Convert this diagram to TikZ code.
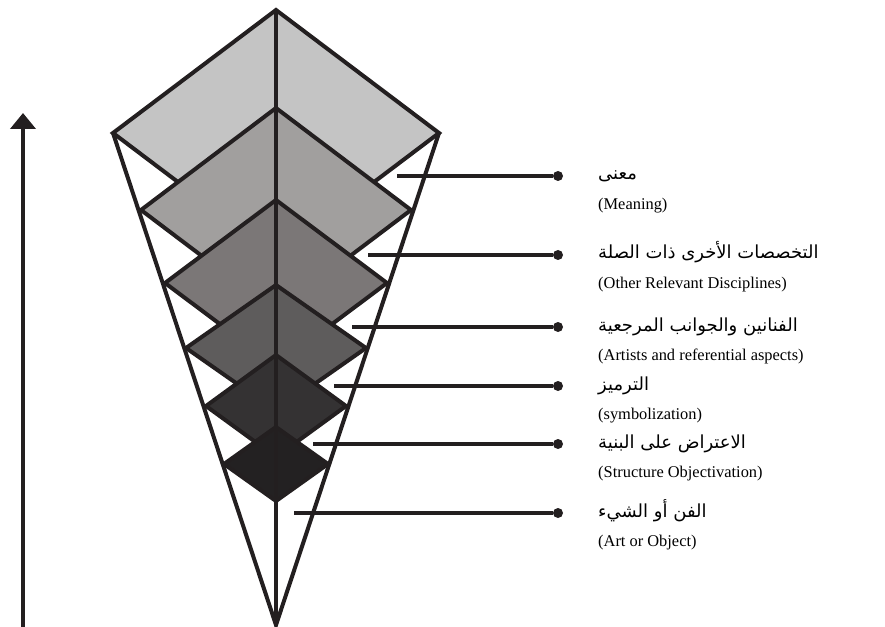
\documentclass[tikz,border=0pt]{standalone}
\usepackage{fontspec}
\setmainfont{Liberation Serif}
\newfontfamily\arabicfont[Script=Arabic]{DejaVu Sans}
\TeXXeTstate=1
\usepackage{tikz}
\usetikzlibrary{arrows.meta,positioning}
\definecolor{Ink}{HTML}{231F20}
\definecolor{ToneA}{HTML}{C4C4C4}
\definecolor{ToneB}{HTML}{A19F9E}
\definecolor{ToneC}{HTML}{7B7777}
\definecolor{ToneD}{HTML}{5E5C5C}
\definecolor{ToneE}{HTML}{343233}
\definecolor{ToneF}{HTML}{232122}

\begin{document}
\begin{tikzpicture}[x=0.75pt, y=-0.75pt, line join=miter,
  layer/.style={draw=Ink, line width=3pt},
  tick/.style={draw=Ink, line width=2.4pt},
  rise/.style={draw=Ink, line width=3.5pt, -{Triangle[width=18.75pt, length=12pt]}},
  dot/.style={circle, fill=Ink, inner sep=0pt, minimum size=7.5pt},
  arlabel/.style={font=\arabicfont\fontsize{13.5}{15}\selectfont, inner sep=0pt, text height=12pt, text depth=4pt},
  enlabel/.style={font=\fontsize{12.3}{14}\selectfont, inner sep=0pt, text height=8.5pt, text depth=3pt}]
\useasboundingbox (0,0) rectangle (885,627);
\coordinate (top) at (276,10);
\coordinate (apex) at (276,625);
\coordinate (left) at (113,133);
\coordinate (right) at (439,133);
\coordinate (base) at (23,627);
\coordinate (tip) at (23,113);
\draw[layer] (left) -- (apex) -- (right);
\filldraw[layer, fill=ToneA] (top) -- (left) -- (276,256) -- (right) -- cycle;
\filldraw[layer, fill=ToneB] (276,108) -- (141,210) -- (276,312) -- (411,210) -- cycle;
\filldraw[layer, fill=ToneC] (276,200) -- (165,283) -- (276,366) -- (387,283) -- cycle;
\filldraw[layer, fill=ToneD] (276,285) -- (186,348) -- (276,411) -- (366,348) -- cycle;
\filldraw[layer, fill=ToneE] (276,355) -- (206,406) -- (276,457) -- (346,406) -- cycle;
\filldraw[layer, fill=ToneF] (276,427) -- (224,464) -- (276,501) -- (328,464) -- cycle;
\draw[layer] (top) -- (apex);
\draw[rise] (base) -- (tip);
\node[dot] (d1) at (558,176) {};
\node[dot] (d2) at (558,255) {};
\node[dot] (d3) at (558,327) {};
\node[dot] (d4) at (558,386) {};
\node[dot] (d5) at (558,444) {};
\node[dot] (d6) at (558,513) {};
\coordinate (p1) at (397,176);
\coordinate (p2) at (368,255);
\coordinate (p3) at (352,327);
\coordinate (p4) at (334,386);
\coordinate (p5) at (313,444);
\coordinate (p6) at (294,513);
\draw[tick] (p1) -- (d1);
\draw[tick] (p2) -- (d2);
\draw[tick] (p3) -- (d3);
\draw[tick] (p4) -- (d4);
\draw[tick] (p5) -- (d5);
\draw[tick] (p6) -- (d6);
\node[arlabel, right=26pt of d1, yshift=1pt] (a1) {\beginR معنى\endR};
\node[arlabel, right=26pt of d2, yshift=1pt] (a2) {\beginR التخصصات الأخرى ذات الصلة\endR};
\node[arlabel, right=26pt of d3, yshift=1pt] (a3) {\beginR الفنانين والجوانب المرجعية\endR};
\node[arlabel, right=26pt of d4, yshift=1pt] (a4) {\beginR الترميز\endR};
\node[arlabel, right=26pt of d5, yshift=1pt] (a5) {\beginR الاعتراض على البنية\endR};
\node[arlabel, right=26pt of d6, yshift=1pt] (a6) {\beginR الفن أو الشيء\endR};
\node[enlabel, below=9pt of a1.south west, anchor=north west] (e1) {(Meaning)};
\node[enlabel, below=9pt of a2.south west, anchor=north west] (e2) {(Other Relevant Disciplines)};
\node[enlabel, below=9pt of a3.south west, anchor=north west] (e3) {(Artists and referential aspects)};
\node[enlabel, below=9pt of a4.south west, anchor=north west] (e4) {(symbolization)};
\node[enlabel, below=9pt of a5.south west, anchor=north west] (e5) {(Structure Objectivation)};
\node[enlabel, below=9pt of a6.south west, anchor=north west] (e6) {(Art or Object)};
\end{tikzpicture}
\end{document}
